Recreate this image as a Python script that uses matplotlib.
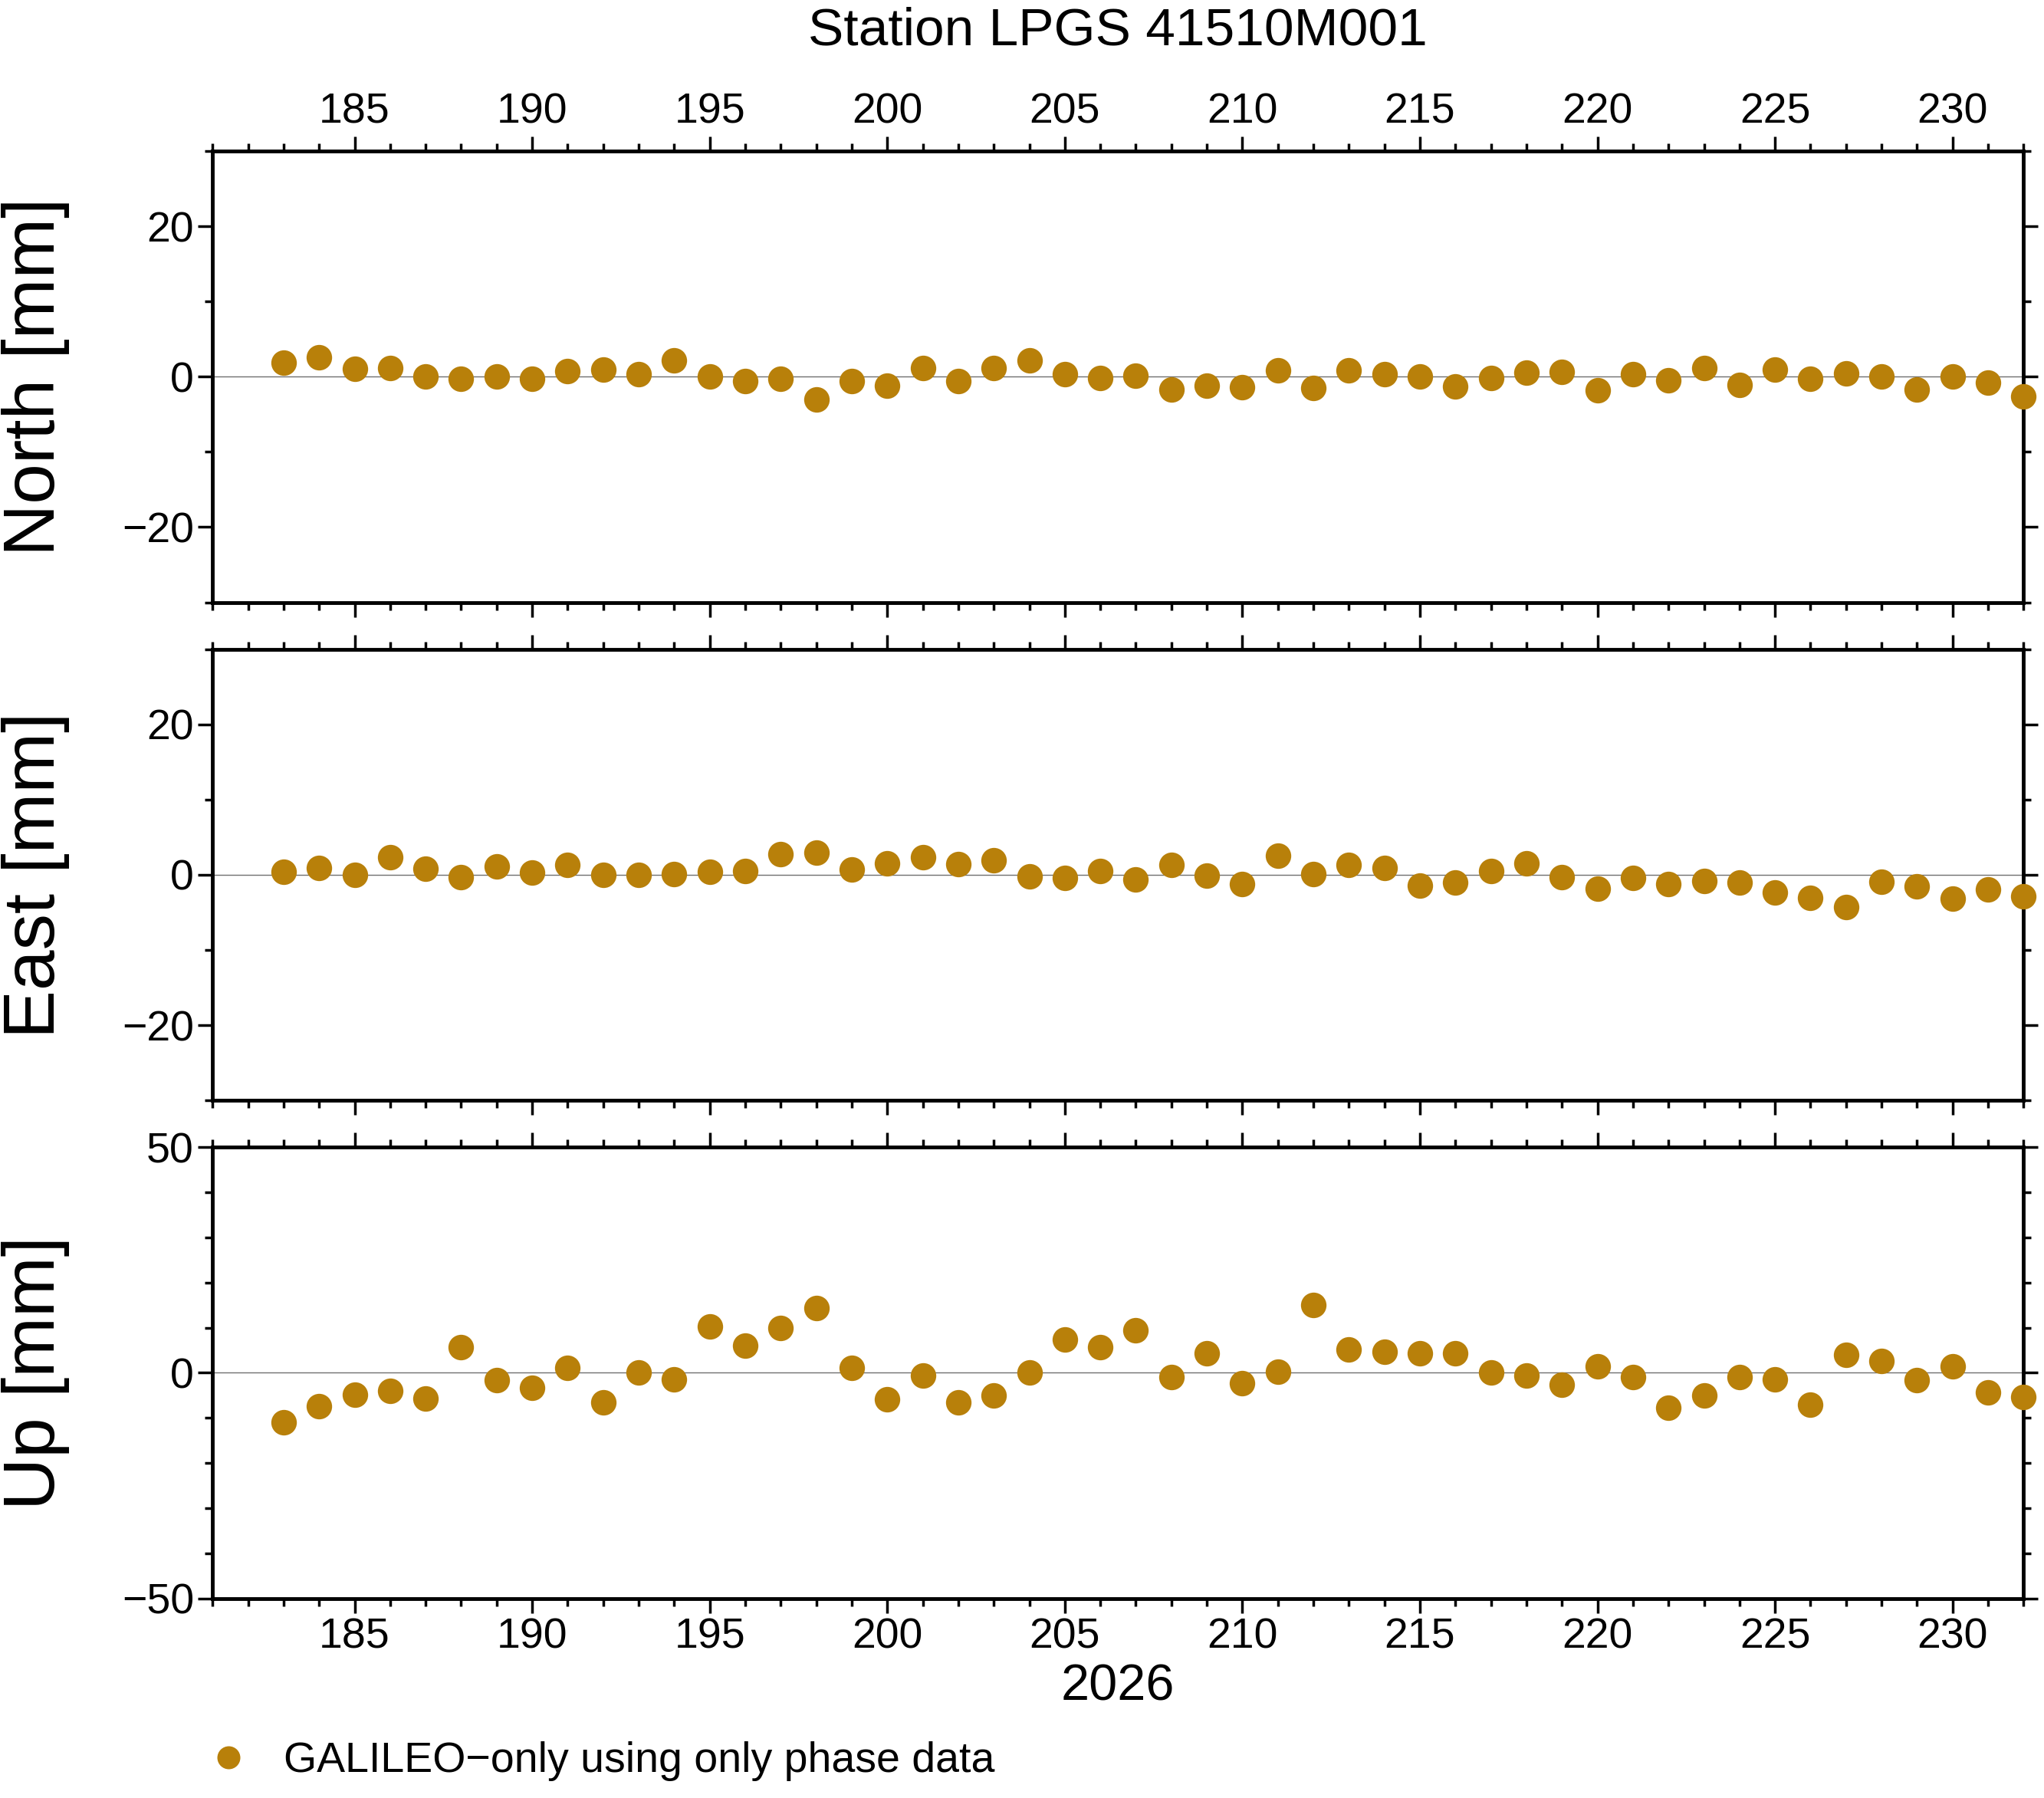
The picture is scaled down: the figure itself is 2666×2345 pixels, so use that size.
import numpy as np
import matplotlib.pyplot as plt

plt.rcParams['font.family'] = ['Liberation Sans', 'DejaVu Sans']

days = list(range(183, 233))
north = [1.9, 2.6, 1.0, 1.2, 0, -0.3, 0, -0.3, 0.7, 0.9, 0.3, 2.2, 0, -0.6, -0.3, -3.0, -0.6, -1.2, 1.1, -0.6,
         1.1, 2.2, 0.3, -0.2, 0.1, -1.7, -1.2, -1.4, 0.8, -1.5, 0.8, 0.3, 0, -1.3, -0.2, 0.5, 0.6, -1.8, 0.3, -0.5,
         1.2, -1.1, 0.9, -0.3, 0.4, 0, -1.7, 0, -0.8, -2.6]
east = [0.4, 0.9, 0, 2.3, 0.8, -0.3, 1.1, 0.3, 1.3, 0, 0, 0.1, 0.4, 0.5, 2.7, 2.9, 0.7, 1.5, 2.3, 1.4,
        1.9, -0.2, -0.4, 0.5, -0.6, 1.3, -0.1, -1.2, 2.5, 0.1, 1.3, 0.9, -1.4, -1.0, 0.5, 1.5, -0.3, -1.9, -0.4, -1.2,
        -0.8, -1.0, -2.4, -3.1, -4.3, -0.9, -1.5, -3.2, -2.0, -2.9]
up = [-11, -7.4, -4.9, -4, -5.7, 5.7, -1.7, -3.4, 1.1, -6.6, 0, -1.4, 10.3, 6.0, 10, 14.3, 1.1, -5.9, -0.6, -6.6,
      -5.1, 0, 7.4, 5.7, 9.4, -0.9, 4.3, -2.3, 0.3, 15.1, 5.1, 4.6, 4.3, 4.3, 0, -0.6, -2.6, 1.4, -0.9, -7.7,
      -5.1, -0.9, -1.4, -7.1, 4.0, 2.6, -1.7, 1.4, -4.3, -5.4]

color = '#b8800a'
fig = plt.figure(figsize=(26.66, 23.45), dpi=100)
panels = [(north, 'North [mm]', 30, 20, 10, 0.665), (east, 'East [mm]', 30, 20, 10, 0.388),
          (up, 'Up [mm]', 50, 50, 10, 0.111)]
axes = []
for i, (vals, lab, lim, maj, mnr, bot) in enumerate(panels):
    ax = fig.add_axes([0.104, bot, 0.886, 0.251])
    ax.plot(days, vals, 'o', color=color, ms=24, mec='none', clip_on=False, zorder=3)
    ax.axhline(0, color='#707070', lw=1)
    ax.set_xlim(181, 232)
    ax.set_ylim(-lim, lim)
    ax.set_xticks(range(185, 231, 5))
    ax.set_xticks(range(181, 233), minor=True)
    ax.set_yticks(np.arange(-lim + (lim % maj), lim + 1, maj) if lim % maj else [-lim, 0, lim])
    ax.set_yticks(np.arange(-lim, lim + 1, mnr), minor=True)
    ax.tick_params(which='both', direction='out', top=True, right=True, labelsize=40, width=2.5)
    ax.tick_params(which='major', length=14)
    ax.tick_params(which='minor', length=7)
    ax.tick_params(labelbottom=(i == 2), labeltop=(i == 0))
    for s in ax.spines.values():
        s.set_linewidth(3.5)
    ax.set_ylabel(lab, fontsize=68, labelpad=20)
    axes.append(ax)

for ax in axes:
    ax.yaxis.set_label_coords(-0.079, 0.5)
axes[0].set_title('Station LPGS 41510M001', fontsize=50, pad=100)
axes[2].set_xlabel('2026', fontsize=48, labelpad=6)
fig.legend(handles=axes[2].lines[:1], labels=['GALILEO\u2212only using only phase data'],
           loc='lower left', bbox_to_anchor=(0.072, -0.012), frameon=False, fontsize=40,
           handletextpad=0.3, markerscale=0.9)
fig.savefig('out.png', dpi=100)
